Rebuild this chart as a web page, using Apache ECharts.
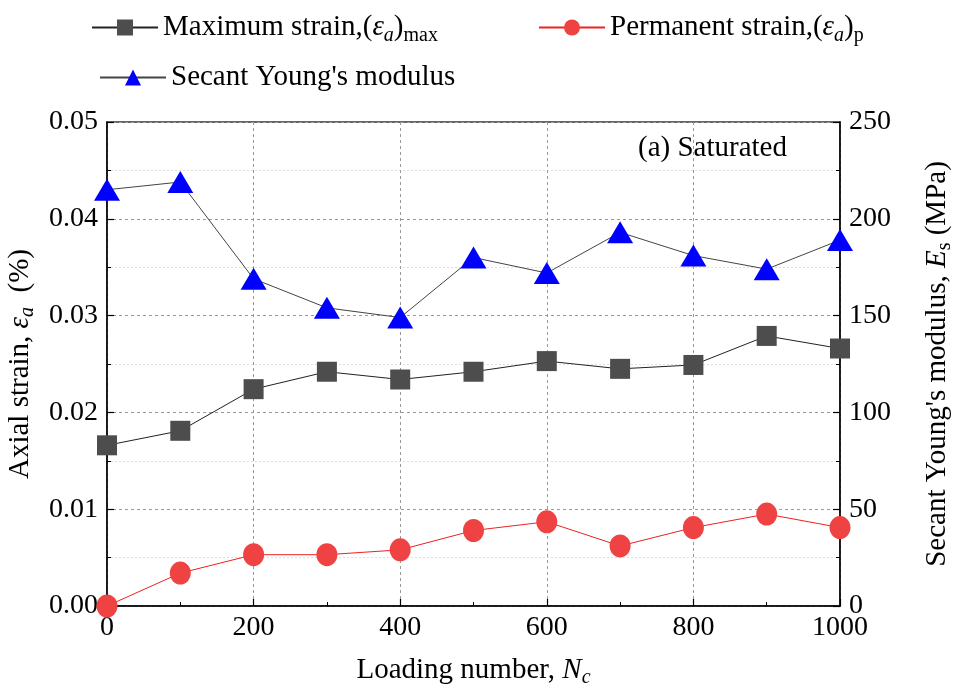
<!DOCTYPE html>
<html><head><meta charset="utf-8">
<script src="https://cdn.jsdelivr.net/npm/echarts@6/dist/echarts.min.js"></script>
<style>html,body{margin:0;padding:0;background:#fff}#c{width:957px;height:689px}</style>
</head><body><div id="c"></div>
<script>
const cycles = [0,100,200,300,400,500,600,700,800,900,1000];
const maxStrain = [0.0166,0.0181,0.0224,0.0242,0.0234,0.0242,0.0253,0.0245,0.0249,0.0279,0.0266];
const permStrain = [0.0000,0.0034,0.0053,0.0053,0.0058,0.0078,0.0087,0.0062,0.0081,0.0095,0.0081];
const secantModulus = [215,219,169,154,149,180,172,193,181,174,189];
const xTicks = [0,200,400,600,800,1000];
const leftTicks = [0,0.01,0.02,0.03,0.04,0.05];
const rightTicks = [0,50,100,150,200,250];

const FONT = 'Liberation Serif';
const rich = {
  i: {fontFamily: FONT, fontSize: 29, fontStyle: 'italic', color: '#000'},
  is: {fontFamily: FONT, fontSize: 20, fontStyle: 'italic', color: '#000', verticalAlign: 'bottom', padding: [16,0,0,0]},
  s: {fontFamily: FONT, fontSize: 20, color: '#000', verticalAlign: 'bottom', padding: [16,0,0,0]},
  n: {fontFamily: FONT, fontSize: 29, color: '#000'}
};
const names = {
  max: 'Maximum strain,(εa)max',
  perm: 'Permanent strain,(εa)p',
  sec: "Secant Young's modulus"
};
const legendFmt = {
  [names.max]: '{n|Maximum strain,(}{i|ε}{is|a}{n|)}{s|max}',
  [names.perm]: '{n|Permanent strain,(}{i|ε}{is|a}{n|)}{s|p}',
  [names.sec]: "{n|Secant Young's modulus}"
};
function mkLegend(name, left, top){
  return {data:[name], left:left, top:top, itemWidth:66, itemHeight:20,
    formatter: n => legendFmt[n], textStyle:{fontFamily:FONT, fontSize:29, color:'#000', rich: rich}};
}
const chart = echarts.init(document.getElementById('c'), null, {renderer:'canvas'});
const axisCommon = {
  axisLine:{show:true, lineStyle:{color:'#000', width:1.5}},
  axisTick:{show:true, inside:true, length:7, lineStyle:{color:'#000', width:1.2}},
  minorTick:{show:true, splitNumber:2, length:4, lineStyle:{color:'#000'}}
};
chart.setOption({
  animation:false,
  backgroundColor:'#fff',
  grid:{left:107, right:117, top:122, bottom:83, containLabel:false, outerBoundsMode:'none',
    show:true, borderColor:'#333', borderWidth:1.5, backgroundColor:'transparent'},
  legend:[mkLegend(names.max, 86, 8), mkLegend(names.perm, 533, 8), mkLegend(names.sec, 94, 58)],
  xAxis:Object.assign({}, axisCommon, {
    type:'value', min:xTicks[0], max:xTicks[xTicks.length-1], interval:xTicks[1]-xTicks[0],
    axisLabel:{fontFamily:FONT, fontSize:28, color:'#000', margin:8, formatter: v => String(v)},
    splitLine:{show:true, lineStyle:{color:'#999', type:[3,3], width:1}},
    name:'{n|Loading number, }{i|N}{is|c}', nameLocation:'middle', nameGap:46,
    nameTextStyle:{rich: rich}
  }),
  yAxis:[
    Object.assign({}, axisCommon, {
      type:'value', min:leftTicks[0], max:leftTicks[leftTicks.length-1], interval:leftTicks[1]-leftTicks[0], position:'left',
      axisLabel:{fontFamily:FONT, fontSize:28, color:'#000', margin:9, formatter: v => v.toFixed(2)},
      splitLine:{show:true, lineStyle:{color:'#999', type:[3,3], width:1}},
      minorSplitLine:{show:true, lineStyle:{color:'#ddd', type:[2,2], width:1}},
      name:'{n|Axial strain, }{i|ε}{is|a}{n|  (%)}', nameLocation:'middle', nameGap:64, nameRotate:90,
      nameTextStyle:{rich: rich}
    }),
    Object.assign({}, axisCommon, {
      type:'value', min:rightTicks[0], max:rightTicks[rightTicks.length-1], interval:rightTicks[1]-rightTicks[0], position:'right',
      axisLabel:{fontFamily:FONT, fontSize:28, color:'#000', margin:9},
      splitLine:{show:false},
      name:"{n|Secant Young's modulus, }{i|E}{s|s}{n| (MPa)}", nameLocation:'middle', nameGap:79, nameRotate:90,
      nameTextStyle:{rich: rich}
    })
  ],
  graphic:[{type:'text', left:638, top:134, style:{text:'(a) Saturated', font:'29px "Liberation Serif"', fill:'#000'}}],
  series:[
    {name:names.max, type:'line', yAxisIndex:0, data:cycles.map((c,i)=>[c,maxStrain[i]]),
      symbol:'rect', symbolSize:20, itemStyle:{color:'#4d4d4d'}, lineStyle:{color:'#222', width:1}, z:3},
    {name:names.perm, type:'line', yAxisIndex:0, data:cycles.map((c,i)=>[c,permStrain[i]]),
      symbol:'circle', symbolSize:[21,23], itemStyle:{color:'#ef4343'}, lineStyle:{color:'#ef2020', width:1}, z:3},
    {name:names.sec, type:'line', yAxisIndex:1, data:cycles.map((c,i)=>[c,secantModulus[i]]),
      symbol:'triangle', symbolSize:[26,22], itemStyle:{color:'#0000ff'}, lineStyle:{color:'#444', width:1}, z:3}
  ]
});
</script></body></html>
